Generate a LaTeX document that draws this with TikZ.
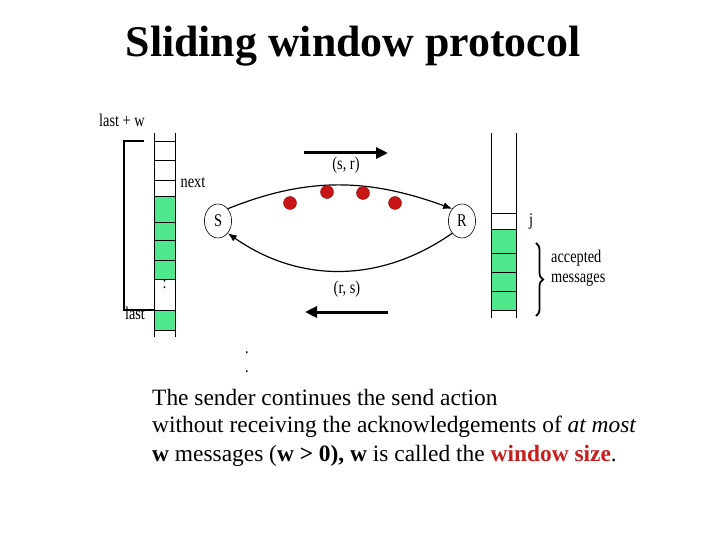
\documentclass[tikz,border=0pt]{standalone}
\usepackage{fontspec}
\setmainfont{Liberation Serif}
\usetikzlibrary{decorations.pathreplacing,arrows.meta}
\definecolor{cellgreen}{RGB}{80,232,140}
\definecolor{dotred}{RGB}{200,20,20}
\definecolor{winred}{RGB}{200,30,30}
\begin{document}
\begin{tikzpicture}[x=1bp,y=-1bp,
  cell/.style={draw, thick},
  lbl/.style={font=\fontsize{18}{20}\selectfont, xscale=0.8},
  msg/.style={circle, fill=dotred, draw=dotred!70!black, inner sep=0pt, minimum size=13bp},
  txt/.style={font=\fontsize{23.5}{28}\selectfont, anchor=west, inner sep=0pt}]
  \useasboundingbox (0,0) rectangle (720,540);
  \node[font=\bfseries\fontsize{44}{48}\selectfont] (title) at (353,46) {Sliding window protocol};
  % sender window
  \fill[cellgreen] (154,196) rectangle (175,279);
  \fill[cellgreen] (154,310) rectangle (175,330);
  \draw[semithick] (154,133) -- (154,337) (175,133) -- (175,337);
  \foreach \y in {141,160,180,196,222,240,260,279,310,330}
    \draw[semithick] (154,\y) -- (175,\y);
  \node[lbl] (dots1) at (164.5,284) {:};
  \draw[very thick] (144,141) -- (124,141) -- (124,310) -- (154,310);
  \node[lbl] (lastw) at (122,120) {last + w};
  \node[lbl] (next) at (193,183) {next};
  \node[lbl] (last) at (135,313) {last};
  % sender and receiver
  \node[draw, semithick, circle, minimum size=34bp, lbl] (S) at (218,221) {S};
  \node[draw, semithick, circle, minimum size=34bp, lbl] (R) at (462,221) {R};
  \draw[very thick, -{Latex[length=9bp,width=7bp]}] (S.north east) to[out=22, in=160] (R.north west);
  \draw[very thick, -{Latex[length=9bp,width=7bp]}] (R.south west) to[out=-145, in=-35] (S.south east);
  \foreach \x/\y in {290/203,327/192,363/193,395/203}
    \node[msg] at (\x,\y) {};
  \node[lbl] (sr) at (346,165) {(s, r)};
  \node[lbl] (rs) at (347,289) {(r, s)};
  \coordinate (a1) at (304,153); \coordinate (a2) at (388,153);
  \draw[line width=3bp, -{Triangle[length=12bp,width=11bp]}] (a1) -- (a2);
  \coordinate (b1) at (388,312); \coordinate (b2) at (305,312);
  \draw[line width=3bp, -{Triangle[length=12bp,width=11bp]}] (b1) -- (b2);
  % receiver window
  \fill[cellgreen] (491,229) rectangle (516,310);
  \draw[semithick] (491,133) -- (491,318) (516,133) -- (516,318);
  \foreach \y in {213,229,253,272,291,310}
    \draw[semithick] (491,\y) -- (516,\y);
  \node[lbl] (j) at (531,221) {j};
  \draw[line width=1.8bp, decorate, decoration={brace, amplitude=7bp}] (536,243) -- (536,316);
  \node[lbl, align=left, anchor=west, inner sep=0pt] (acc) at (551,268) {accepted\\messages};
  \node[lbl] (v1) at (247,353) {.};
  \node[lbl] (v2) at (247,372) {.};
  % caption
  \node[txt] (l1) at (152,397) {The sender continues the send action};
  \node[txt] (l2) at (152,427) {without receiving the acknowledgements of \textit{at most}};
  \node[txt] (l3) at (152,456) {\textbf{w} messages (\textbf{w > 0), w} is called the \textcolor{winred}{\textbf{window size}}.};
\end{tikzpicture}
\end{document}
